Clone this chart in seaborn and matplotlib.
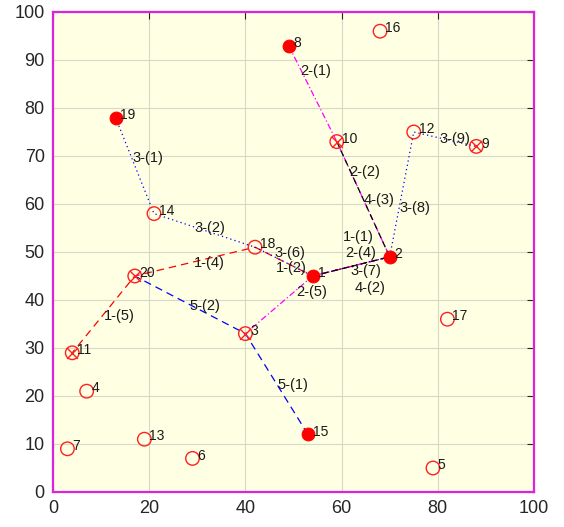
import matplotlib
matplotlib.use("Agg")
import matplotlib.pyplot as plt
import seaborn as sns
import pandas as pd

# ---- data ----
node_id = list(range(1, 21))
node_x = [54, 70, 40, 7, 79, 29, 3, 49, 88, 59, 4, 75, 19, 21, 53, 68, 82, 42, 13, 17]
node_y = [45, 49, 33, 21, 5, 7, 9, 93, 72, 73, 29, 75, 11, 58, 12, 96, 36, 51, 78, 45]
# node kind: depot (filled), served (circle with x), plain (open circle)
depots = [1, 2, 8, 15, 19]
crossed = [3, 9, 10, 11, 20]

routes = {
    "1": [2, 1, 18, 20, 11],
    "2": [8, 10, 2, 1, 3],
    "3": [19, 14, 18, 1, 2, 12, 9],
    "4": [10, 2, 1],
    "5": [15, 3, 20],
}

leg_labels = ["2-(1)", "2-(2)", "4-(3)", "3-(8)", "3-(9)", "3-(1)", "3-(2)",
              "3-(6)", "1-(2)", "1-(1)", "2-(4)", "3-(7)", "4-(2)", "2-(5)",
              "1-(4)", "1-(5)", "5-(2)", "5-(1)"]
leg_label_x = [54.7, 64.7, 67.8, 75.3, 83.6, 19.8, 32.6, 49.2, 49.6, 63.4, 64.0,
               65.0, 65.9, 53.8, 32.6, 13.7, 31.6, 49.9]
leg_label_y = [87.7, 66.7, 60.8, 59.2, 73.5, 69.6, 55.0, 49.8, 46.7, 53.1, 49.7,
               46.0, 42.5, 41.7, 47.7, 36.7, 38.8, 22.3]

# ---- styling ----
route_styles = {
    "1": dict(color="#FF0000", dashes=(6, 4)),
    "2": dict(color="#FF00FF", dashes=(5, 2, 1, 2)),
    "3": dict(color="#0000FF", dashes=(1, 2.5)),
    "4": dict(color="#000000", dashes=(5, 3)),
    "5": dict(color="#0000FF", dashes=(6, 4)),
}

sns.set_style("white")
plt.rcParams["font.family"] = ["Liberation Sans", "DejaVu Sans"]

fig = plt.figure(figsize=(5.64, 5.27), dpi=100)
ax = fig.add_axes([53 / 564, 1 - 492 / 527, 481 / 564, 480 / 527])
ax.set_facecolor("#FFFFE3")

nodes = pd.DataFrame({"id": node_id, "x": node_x, "y": node_y})
nodes["kind"] = ["depot" if i in depots else ("crossed" if i in crossed else "plain")
                 for i in node_id]

# routes
for r, seq in routes.items():
    df = pd.DataFrame({"x": [node_x[i - 1] for i in seq],
                       "y": [node_y[i - 1] for i in seq],
                       "step": range(len(seq))})
    st = route_styles[r]
    sns.lineplot(data=df, x="x", y="y", sort=False, estimator=None, ax=ax,
                 color=st["color"], linewidth=0.9, dashes=False)
    ax.lines[-1].set_dashes(st["dashes"])

# nodes
plain = nodes[nodes["kind"] != "depot"]
sns.scatterplot(data=plain, x="x", y="y", ax=ax, s=95, facecolor="none",
                edgecolor="#FF2020", linewidth=1.0, zorder=5, legend=False)
cr = nodes[nodes["kind"] == "crossed"]
sns.scatterplot(data=cr, x="x", y="y", ax=ax, s=60, marker="x", color="#FF2020",
                linewidth=1.0, zorder=5, legend=False)
dp = nodes[nodes["kind"] == "depot"]
sns.scatterplot(data=dp, x="x", y="y", ax=ax, s=85, color="#FF0000",
                edgecolor="#FF0000", zorder=6, legend=False)

for i, x, y in zip(node_id, node_x, node_y):
    ax.text(x + 1.0, y + 0.6, str(i), fontsize=10, ha="left", va="center",
            color="#1a1a1a", zorder=7)

for t, x, y in zip(leg_labels, leg_label_x, leg_label_y):
    ax.text(x, y, t, fontsize=10.5, ha="center", va="center", color="#1a1a1a",
            zorder=7)

ax.set_xlim(0, 100)
ax.set_ylim(0, 100)
ax.set_xticks(range(0, 101, 20))
ax.set_yticks(range(0, 101, 10))
ax.set_xlabel("")
ax.set_ylabel("")
ax.grid(True, color="#D8D8C8", linewidth=0.8)
ax.set_axisbelow(True)
ax.tick_params(direction="in", length=5, width=0.8, colors="#262626",
               labelsize=13, top=True, right=True, pad=6)
for s in ax.spines.values():
    s.set_color("#DD22DD")
    s.set_linewidth(1.6)
    s.set_visible(True)

fig.savefig("out.png", dpi=100)
